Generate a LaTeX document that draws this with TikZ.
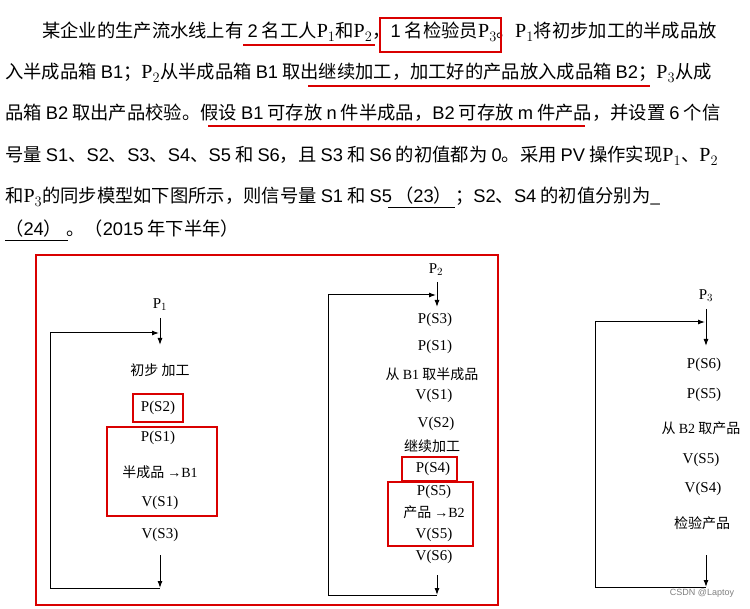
\documentclass[tikz,border=0pt]{standalone}
\usepackage{fontspec}
\usetikzlibrary{arrows.meta}
\setmainfont{Noto Sans CJK SC}
\newfontfamily\tms{Liberation Serif}
\newfontfamily\ars{Liberation Sans}
\newcommand{\Pp}[1]{{\tms\fontsize{20}{20}\selectfont P$_{#1}$}}
\begin{document}
\begin{tikzpicture}[x=1pt,y=-1pt,
  line/.style={anchor=base west,inner sep=0pt,font=\fontsize{18.3}{18.3}\selectfont},
  lab/.style={inner sep=1pt,font=\fontsize{15}{15}\selectfont\tms},
  cjk/.style={inner sep=1pt,font=\fontsize{14}{14}\selectfont},
  red/.style={draw=red!85!black,line width=1.4pt},
  flow/.style={draw=black,line width=1pt},
  arr/.style={flow,-{Latex[length=7pt,width=5pt]}}]
\useasboundingbox (0,0) rectangle (750,609);
\fill[white] (0,0) rectangle (750,609);
% paragraph
\node[line] (l1) at (42,38) {某企业的生产流水线上有 {\ars 2} 名工人\Pp1和\Pp2，{\ars 1} 名检验员\Pp3。\Pp1将初步加工的半成品放};
\node[line] (l2) at (5,79) {入半成品箱 {\ars B1}；\Pp2从半成品箱 {\ars B1} 取出继续加工，加工好的产品放入成品箱 {\ars B2}；\Pp3从成};
\node[line] (l3) at (5,120) {品箱 {\ars B2} 取出产品校验。假设 {\ars B1} 可存放 {\ars n} 件半成品，{\ars B2} 可存放 {\ars m} 件产品，并设置 {\ars 6} 个信};
\node[line] (l4) at (5,162) {号量 {\ars S1}、{\ars S2}、{\ars S3}、{\ars S4}、{\ars S5} 和 {\ars S6}，且 {\ars S3} 和 {\ars S6} 的初值都为 {\ars 0}。采用 {\ars PV} 操作实现\Pp1、\Pp2};
\node[line] (l5) at (5,203) {和\Pp3的同步模型如下图所示，则信号量 {\ars S1} 和 {\ars S5}\,（{\ars 23}）\hspace{3pt}；{\ars S2}、{\ars S4} 的初值分别为\_};
\node[line] (l6) at (5,236) {（{\ars 24}）\hspace{4pt}。（{\ars 2015} 年下半年）};
\draw[red] (243,45) -- (375,45);
\draw[red] (380,18) rectangle (501,52);
\draw[red] (308,86) -- (650,86);
\draw[red] (208,126) -- (585,126);
\draw[black,line width=0.8pt] (388,207) -- (455,207);
\draw[black,line width=0.8pt] (5,240) -- (68,240);
% diagram frame
\draw[red] (36,255) rectangle (498,605);
% P1
\node[lab] (p1) at (160,305) {P$_1$};
\coordinate (p1a) at (160,318);
\coordinate (p1b) at (160,345);
\draw[arr] (p1a) -- (p1b);
\coordinate (p1l) at (50,333);
\coordinate (p1j) at (159,333);
\coordinate (p1bl) at (50,588);
\coordinate (p1br) at (160,588);
\coordinate (p1d) at (160,555);
\draw[flow] (p1bl) -- (p1br);
\draw[arr] (p1bl) -- (p1l) -- (p1j);
\draw[arr] (p1d) -- (p1br);
\node[cjk] (a1) at (160,370) {初步 加工};
\node[lab] (a2) at (158,408) {P(S2)};
\node[lab] (a3) at (158,438) {P(S1)};
\node[cjk] (a4) at (160,472) {半成品 {\tms →B1}};
\node[lab] (a5) at (160,503) {V(S1)};
\node[lab] (a6) at (160,535) {V(S3)};
\draw[red] (133,394) rectangle (183,422);
\draw[red] (107,427) rectangle (217,516);
% P2
\node[lab] (p2) at (436,270) {P$_2$};
\coordinate (p2a) at (437,282);
\coordinate (p2b) at (437,307);
\draw[arr] (p2a) -- (p2b);
\coordinate (p2l) at (328,295);
\coordinate (p2j) at (436,295);
\coordinate (p2bl) at (328,595);
\coordinate (p2br) at (437,595);
\coordinate (p2d) at (437,575);
\draw[flow] (p2bl) -- (p2br);
\draw[arr] (p2bl) -- (p2l) -- (p2j);
\draw[arr] (p2d) -- (p2br);
\node[lab] (b1) at (435,320) {P(S3)};
\node[lab] (b2) at (435,347) {P(S1)};
\node[cjk] (b3) at (432,374) {从 {\tms B1} 取半成品};
\node[lab] (b4) at (434,396) {V(S1)};
\node[lab] (b5) at (436,424) {V(S2)};
\node[cjk] (b6) at (432,446) {继续加工};
\node[lab] (b7) at (433,469) {P(S4)};
\node[lab] (b8) at (434,492) {P(S5)};
\node[cjk] (b9) at (434,512) {产品 {\tms →B2}};
\node[lab] (b10) at (434,535) {V(S5)};
\node[lab] (b11) at (434,557) {V(S6)};
\draw[red] (402,457) rectangle (457,481);
\draw[red] (388,482) rectangle (473,546);
% P3
\node[lab] (p3) at (706,296) {P$_3$};
\coordinate (p3a) at (706,309);
\coordinate (p3b) at (706,346);
\draw[arr] (p3a) -- (p3b);
\coordinate (p3l) at (595,322);
\coordinate (p3j) at (705,322);
\coordinate (p3bl) at (595,587);
\coordinate (p3br) at (706,587);
\coordinate (p3d) at (706,555);
\draw[flow] (p3bl) -- (p3br);
\draw[arr] (p3bl) -- (p3l) -- (p3j);
\draw[arr] (p3d) -- (p3br);
\node[lab] (c1) at (704,365) {P(S6)};
\node[lab] (c2) at (704,395) {P(S5)};
\node[cjk] (c3) at (701,428) {从 {\tms B2} 取产品};
\node[lab] (c4) at (701,460) {V(S5)};
\node[lab] (c5) at (703,489) {V(S4)};
\node[cjk] (c6) at (702,523) {检验产品};
\node[inner sep=0pt,font=\fontsize{9}{9}\selectfont\ars,text=gray] (wm) at (702,593) {CSDN @Laptoy};
\end{tikzpicture}
\end{document}
